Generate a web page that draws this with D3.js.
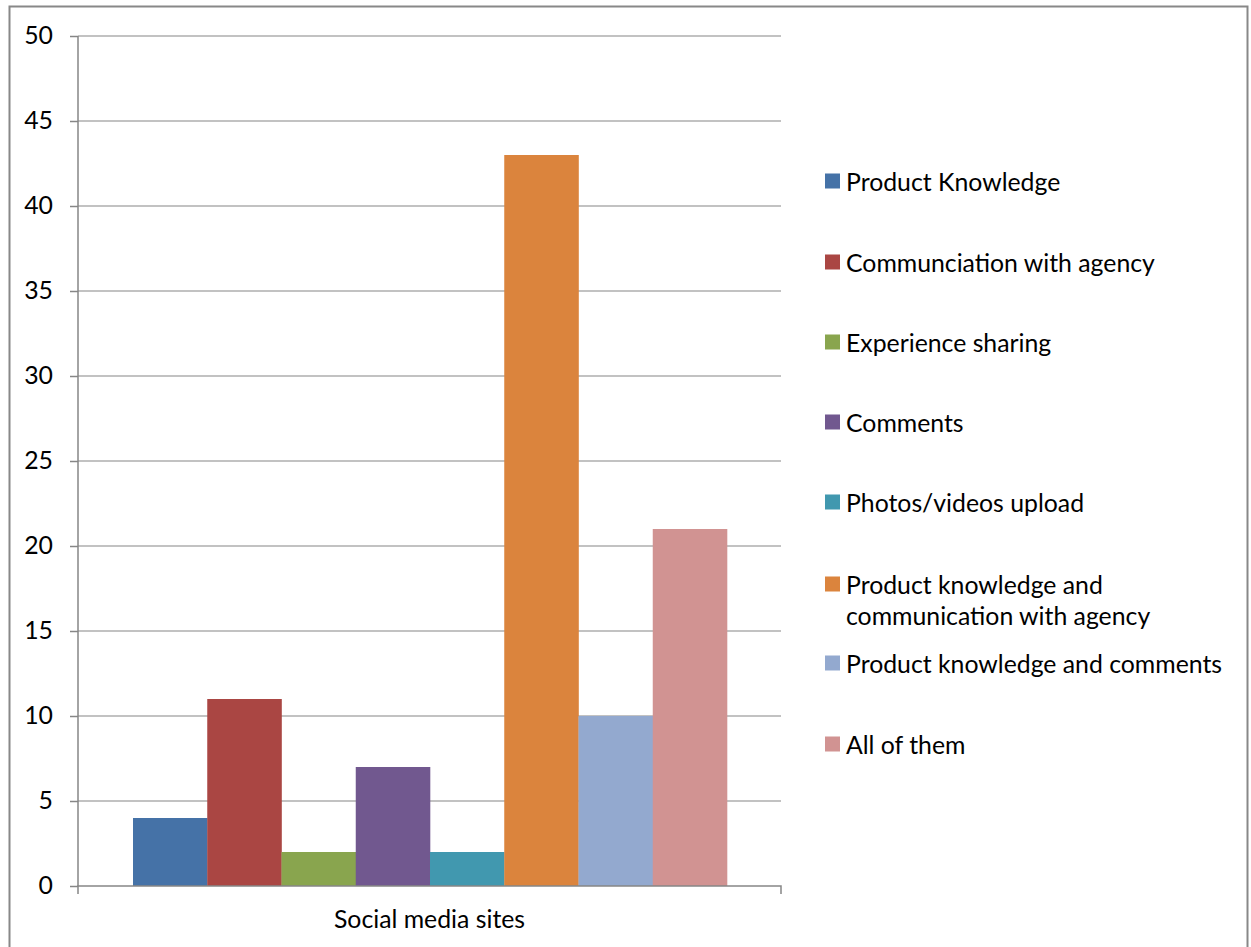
<!DOCTYPE html>
<html><head><meta charset="utf-8">
<script src="https://cdn.jsdelivr.net/npm/d3@7"></script>
<style>body{margin:0;background:#fff;} text{font-family:Lato,sans-serif;fill:#000;}</style>
</head><body>
<svg id="c" width="1251" height="947"></svg>
<script>
const category = ["Social media sites"];
const seriesNames = ["Product Knowledge","Communciation with agency","Experience sharing","Comments","Photos/videos upload","Product knowledge and communication with agency","Product knowledge and comments","All of them"];
const legendLines = [["Product Knowledge"],["Communciation with agency"],["Experience sharing"],["Comments"],["Photos/videos upload"],["Product knowledge and","communication with agency"],["Product knowledge and comments"],["All of them"]];
const values = [4,11,2,7,2,43,10,21];
const colors = ["#4572A7","#AA4643","#89A54E","#71588F","#4198AF","#DB843D","#93A9CF","#D19392"];
const yTicks = [0,5,10,15,20,25,30,35,40,45,50];

const FS = 24.8;
const svg = d3.select("#c");
svg.append("rect").attr("x",9.5).attr("y",6.5).attr("width",1238).attr("height",960).attr("fill","none").attr("stroke","#888").attr("stroke-width",2);

const L=78, R=781, T=36, B=886;
const y = d3.scaleLinear().domain([0,50]).range([B,T]);
const x0 = d3.scaleBand().domain(category).range([L,R]).paddingInner(0).paddingOuter(0);
const x1 = d3.scaleBand().domain(seriesNames).range([55, x0.bandwidth()-54]).padding(0);

svg.append("g").selectAll("line").data(yTicks.filter(d=>d>0)).join("line")
  .attr("x1",L).attr("x2",R).attr("y1",d=>y(d)).attr("y2",d=>y(d)).attr("stroke","#868686").attr("stroke-width",1.2);

svg.append("g").selectAll("rect").data(values).join("rect")
  .attr("x",(d,i)=>x0(category[0])+x1(seriesNames[i]))
  .attr("width",x1.bandwidth()+0.3)
  .attr("y",d=>y(d)).attr("height",d=>y(0)-y(d))
  .attr("fill",(d,i)=>colors[i]);

const ya = svg.append("g").attr("transform",`translate(${L},0)`)
  .call(d3.axisLeft(y).tickValues(yTicks).tickSize(8).tickPadding(17).tickFormat(d3.format("d")));
ya.select(".domain").attr("stroke","#868686").attr("stroke-width",1.5).attr("d",`M0,${T}V${B}`);
ya.selectAll(".tick line").attr("stroke","#868686").attr("stroke-width",1.5);
ya.selectAll(".tick text").attr("font-size",FS).attr("font-family","Lato").attr("fill","#000");

const xa = svg.append("g").attr("transform",`translate(0,${B})`)
  .call(d3.axisBottom(x0).tickSize(0).tickPadding(24));
xa.select(".domain").attr("stroke","#868686").attr("stroke-width",1.5).attr("d",`M${L},8V0H${R}V8`);
xa.selectAll(".tick text").attr("font-size",FS).attr("font-family","Lato").attr("fill","#000").attr("dy","0.71em");

const rowsY = [181,262,342,422,502,584,663,744];
const lg = svg.append("g");
legendLines.forEach((lines,i)=>{
  const g = lg.append("g").attr("transform",`translate(825,${rowsY[i]})`);
  g.append("rect").attr("x",0).attr("y",-7.5).attr("width",15).attr("height",15).attr("fill",colors[i]);
  const t = g.append("text").attr("x",21).attr("y",0).attr("font-size",FS).attr("dominant-baseline","central");
  lines.forEach((ln,j)=>t.append("tspan").attr("x",21).attr("dy",j===0?0:31).text(ln));
});
</script>
</body></html>
